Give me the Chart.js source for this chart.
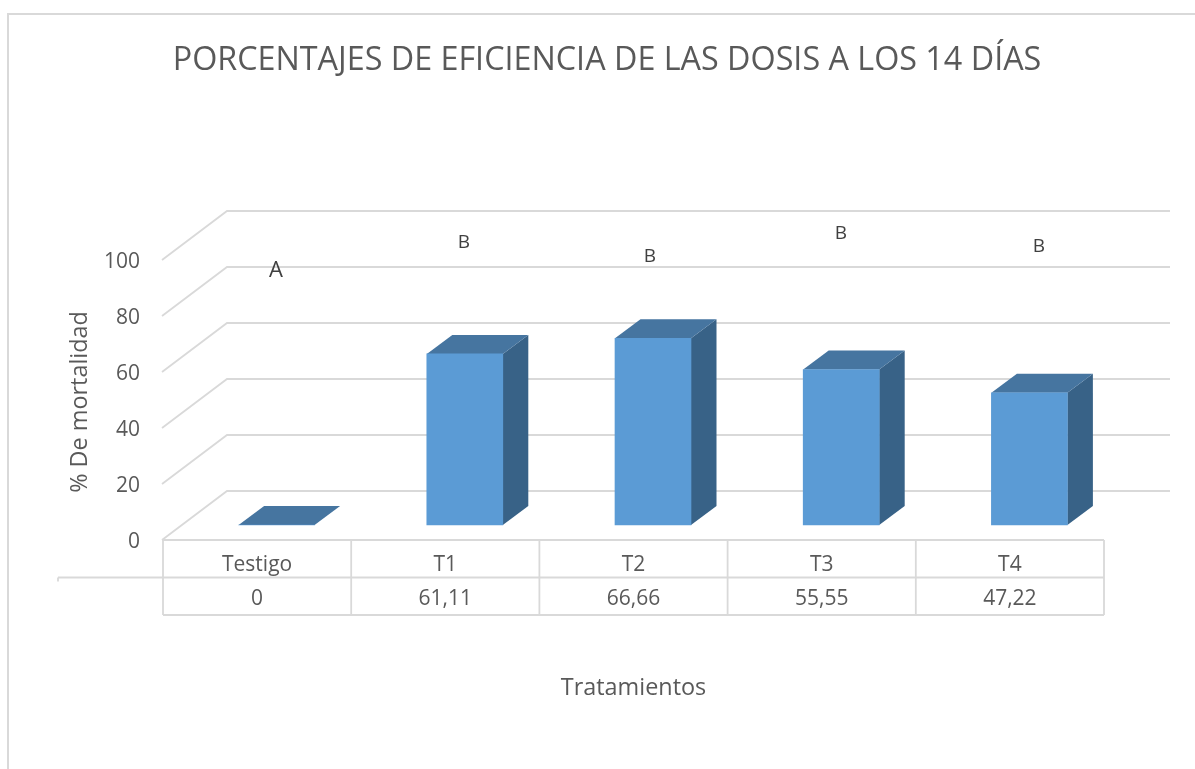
<!DOCTYPE html>
<html>
<head>
<meta charset="utf-8">
<style>html,body{margin:0;padding:0;background:#fff}canvas{display:block}</style>
<script src="https://cdn.jsdelivr.net/npm/chart.js@4"></script>
</head>
<body>
<canvas id="c" width="1195" height="769"></canvas>
<script>
const categories = ['Testigo', 'T1', 'T2', 'T3', 'T4'];
const mortalidad = [0, 61.11, 66.66, 55.55, 47.22];
const valueLabels = ['0', '61,11', '66,66', '55,55', '47,22'];
const letters = ['A', 'B', 'B', 'B', 'B'];
const titleText = 'PORCENTAJES DE EFICIENCIA DE LAS DOSIS A LOS 14 DÍAS';
const yAxisTitle = '% De mortalidad';
const xAxisTitle = 'Tratamientos';

const TEXT = '#595959', GRID = '#d9d9d9', FONT = '"Open Sans", sans-serif';
const FRONT = '#5b9bd5', TOP = '#4675a0', SIDE = '#386287';
const DX = 25.5, DY = 19, SHIFT = 19.5, NUDGE = 2;
const WALL_DX = 65, WALL_DY = 49, WALL_RIGHT = 1170;
const LETTER_X = [276, 464, 650, 841, 1039];
const LETTER_Y = [271, 243, 257, 234, 247];
const LETTER_SIZE = [22, 19, 19, 19, 19];

function line(ctx, pts) {
  ctx.beginPath();
  pts.forEach((p, i) => i ? ctx.lineTo(p[0], p[1]) : ctx.moveTo(p[0], p[1]));
  ctx.stroke();
}
function poly(ctx, pts, fill) {
  ctx.fillStyle = fill;
  ctx.beginPath();
  pts.forEach((p, i) => i ? ctx.lineTo(p[0], p[1]) : ctx.moveTo(p[0], p[1]));
  ctx.closePath();
  ctx.fill();
}

const scene = {
  id: 'scene',
  beforeDatasetsDraw(chart) {
    const { ctx, scales: { y } } = chart;
    const a = chart.chartArea;
    ctx.save();
    ctx.strokeStyle = GRID;
    // outer frame
    ctx.lineWidth = 2;
    line(ctx, [[8, 769], [8, 14], [1195, 14]]);
    // walls
    ctx.lineWidth = 1.8;
    y.ticks.forEach(t => {
      const py = y.getPixelForValue(t.value) - NUDGE;
      line(ctx, [[a.left - 1, py], [a.left + WALL_DX - 1, py - WALL_DY], [WALL_RIGHT, py - WALL_DY]]);
    });
    // data table
    const rowH = 37.5;
    const top = a.bottom - NUDGE;
    line(ctx, [[a.left, top], [a.right, top]]);
    line(ctx, [[58, top + rowH], [a.right, top + rowH]]);
    line(ctx, [[a.left, top + 2 * rowH], [a.right, top + 2 * rowH]]);
    line(ctx, [[58, top + rowH], [58, top + rowH + 4]]);
    const w = (a.right - a.left) / categories.length;
    for (let i = 0; i <= categories.length; i++) {
      line(ctx, [[a.left + i * w, top], [a.left + i * w, top + 2 * rowH]]);
    }
    ctx.restore();

    ctx.save();
    ctx.translate(SHIFT, 0);
    chart.getDatasetMeta(0).data.forEach(b => {
      const l = b.x - b.width / 2, r = b.x + b.width / 2, t = b.y, base = b.base;
      if (base - t > 0.5) {
        poly(ctx, [[r, t], [r + DX, t - DY], [r + DX, base - DY], [r, base]], SIDE);
      }
      poly(ctx, [[l, t], [r, t], [r + DX, t - DY], [l + DX, t - DY]], TOP);
    });
  },
  afterDatasetsDraw(chart) {
    const { ctx } = chart;
    ctx.restore();
    ctx.save();
    ctx.fillStyle = '#404040';
    ctx.textAlign = 'center';
    ctx.textBaseline = 'middle';
    letters.forEach((s, i) => {
      ctx.font = LETTER_SIZE[i] + 'px ' + FONT;
      ctx.fillText(s, LETTER_X[i], LETTER_Y[i]);
    });
    ctx.restore();
  }
};

new Chart(document.getElementById('c'), {
  type: 'bar',
  data: {
    labels: categories.map((c, i) => [c, valueLabels[i]]),
    datasets: [{
      label: yAxisTitle,
      data: mortalidad,
      yAxisID: 'y1',
      backgroundColor: FRONT,
      borderWidth: 0,
      barThickness: 76,
      clip: false
    }]
  },
  plugins: [scene],
  options: {
    responsive: false,
    animation: false,
    layout: { padding: { left: 19, right: 0, top: 0, bottom: 0 } },
    plugins: {
      legend: { display: false },
      tooltip: { enabled: false },
      title: {
        display: true,
        text: titleText,
        color: TEXT,
        font: { family: FONT, size: 32.3, weight: 'normal', lineHeight: 1.2 },
        padding: { top: 41.5, bottom: 181.74 }
      }
    },
    scales: {
      x: {
        grid: { display: false, drawTicks: false },
        border: { display: false },
        ticks: {
          color: TEXT, padding: 6, maxRotation: 0, autoSkip: false,
          font: { family: FONT, size: 21, lineHeight: 1.62 }
        },
        title: {
          display: true, text: xAxisTitle, color: TEXT,
          font: { family: FONT, size: 23.4, lineHeight: 1.2 },
          padding: { top: 0, bottom: 67 }
        },
        afterFit(s) { s.height = 227; }
      },
      y: {
        min: 0, max: 100,
        grid: { display: false, drawTicks: false },
        border: { display: false },
        ticks: {
          stepSize: 20, color: TEXT, padding: 23,
          font: { family: FONT, size: 21 }
        },
        title: {
          display: true, text: yAxisTitle, color: TEXT,
          font: { family: FONT, size: 23.4, lineHeight: 1.2 },
          padding: { top: 47, bottom: 47 }
        },
        afterFit(s) { s.width = 144; }
      },
      y1: {
        position: 'right',
        min: -6.071, max: 93.929,
        grid: { display: false, drawTicks: false },
        border: { display: false },
        ticks: { display: false },
        afterFit(s) { s.width = 91; }
      }
    }
  }
});
</script>
</body>
</html>
